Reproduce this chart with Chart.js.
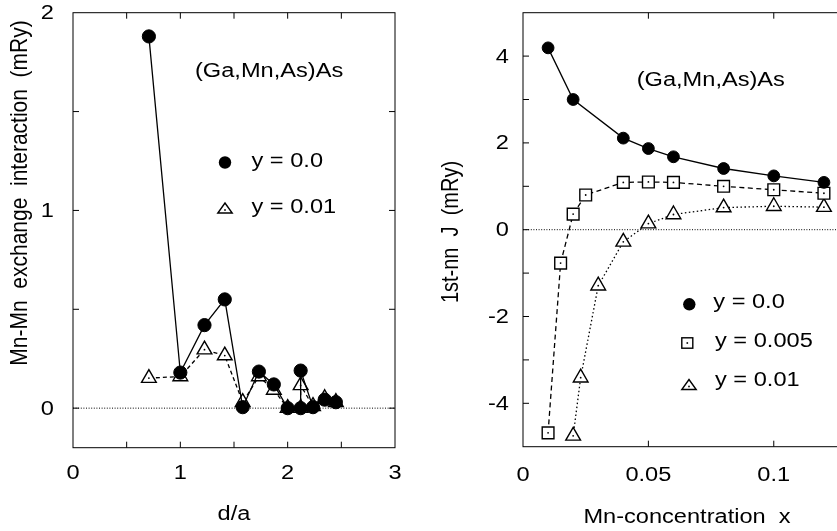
<!DOCTYPE html>
<html>
<head>
<meta charset="utf-8">
<script src="https://cdn.jsdelivr.net/npm/chart.js@4.4.1/dist/chart.umd.min.js"></script>
<style>
  html, body { margin: 0; padding: 0; background: #fff; overflow: hidden; }
  #wrap { position: relative; width: 837px; height: 531px; overflow: hidden; background: #fff; }
  #wrap canvas { position: absolute; top: 0; }
  #left { left: 0; }
  #right { left: 420px; }
</style>
</head>
<body>
<div id="wrap">
  <canvas id="left" width="420" height="531"></canvas>
  <canvas id="right" width="440" height="531"></canvas>
</div>
<script>
// ---- Left panel: exchange interaction vs. distance d/a ----
const dOverA = [0.707, 1.0, 1.225, 1.414, 1.581, 1.732, 1.871, 2.0, 2.121, 2.121, 2.236, 2.345, 2.449];
const jPairY000 = [1.88, 0.18, 0.42, 0.55, 0.005, 0.185, 0.12, 0.0, 0.0, 0.19, 0.005, 0.043, 0.03];
const jPairY001 = [0.152, 0.16, 0.296, 0.266, 0.03, 0.16, 0.092, 0.0, 0.0, 0.115, 0.01, 0.05, 0.03];

const leftXLabels = [0, 1, 2, 3];
const leftXMarks = [0.5, 1, 1.5, 2, 2.5];
const leftYLabels = [0, 1, 2];
const leftYMarks = [0, 0.5, 1, 1.5];

// ---- Right panel: first-neighbour J vs. Mn concentration ----
const mnXY000 = [0.01, 0.02, 0.04, 0.05, 0.06, 0.08, 0.1, 0.12];
const jNNY000 = [4.19, 3.0, 2.11, 1.87, 1.68, 1.41, 1.24, 1.09];
const mnXY005 = [0.01, 0.015, 0.02, 0.025, 0.04, 0.05, 0.06, 0.08, 0.1, 0.12];
const jNNY005 = [-4.68, -0.77, 0.36, 0.80, 1.09, 1.10, 1.09, 1.0, 0.92, 0.84];
const mnXY010 = [0.02, 0.023, 0.03, 0.04, 0.05, 0.06, 0.08, 0.1, 0.12];
const jNNY010 = [-4.75, -3.41, -1.29, -0.28, 0.14, 0.35, 0.51, 0.54, 0.52];

const rightXLabels = [0, 0.05, 0.1];
const rightXMarks = [0.05, 0.1];
const rightYLabels = [-4, -2, 0, 2, 4];
const rightYMarks = [-4, -3, -2, -1, 0, 1, 2, 3, 4];

const seriesNames = ['y = 0.0', 'y = 0.005', 'y = 0.01'];
const systemName = '(Ga,Mn,As)As';

const pts = (xs, ys) => xs.map((x, i) => ({ x: x, y: ys[i] }));

// Text is drawn slightly widened, like the original plotting terminal.
const SX = 1.18;
const FONT = '"Liberation Sans", Arial, Helvetica, sans-serif';
function drawText(ctx, s, x, y, align, baseline, rotate, size) {
  ctx.save();
  ctx.translate(x, y);
  ctx.scale(SX, 1);
  if (rotate) ctx.rotate(-Math.PI / 2);
  ctx.font = (size || 20) + 'px ' + FONT;
  ctx.textAlign = align;
  ctx.textBaseline = baseline;
  ctx.fillStyle = '#000';
  ctx.fillText(s, 0, 0);
  ctx.restore();
}

function drawKey(ctx, kind, x, y) {
  ctx.save();
  ctx.strokeStyle = '#000';
  ctx.fillStyle = '#000';
  ctx.lineWidth = 1.4;
  if (kind === 'circle') {
    ctx.beginPath(); ctx.arc(x, y, 6.2, 0, Math.PI * 2); ctx.fill();
  } else if (kind === 'square') {
    ctx.strokeRect(x - 5.5, y - 5.2, 11, 10.4);
    ctx.fillRect(x - 0.8, y - 0.8, 1.6, 1.6);
  } else {
    ctx.beginPath();
    ctx.moveTo(x - 7.2, y + 5);
    ctx.lineTo(x + 7.2, y + 5);
    ctx.lineTo(x, y - 5);
    ctx.closePath();
    ctx.stroke();
    ctx.fillRect(x - 0.8, y + 1.2, 1.6, 1.6);
  }
  ctx.restore();
}

const fmt = v => String(v);

// Frame, inward ticks, tick labels, axis titles and in-plot key.
const decor = {
  id: 'decor',
  afterDraw(chart, args, o) {
    const ctx = chart.ctx;
    const a = chart.chartArea;
    const sx = chart.scales.x, sy = chart.scales.y;
    const L = 6;
    ctx.save();
    ctx.strokeStyle = '#000';
    ctx.lineWidth = 1;
    ctx.strokeRect(a.left, a.top, a.right - a.left, a.bottom - a.top);
    ctx.beginPath();
    o.xMarks.forEach(v => {
      const p = sx.getPixelForValue(v);
      ctx.moveTo(p, a.bottom); ctx.lineTo(p, a.bottom - L);
      ctx.moveTo(p, a.top); ctx.lineTo(p, a.top + L);
    });
    o.yMarks.forEach(v => {
      const p = sy.getPixelForValue(v);
      ctx.moveTo(a.left, p); ctx.lineTo(a.left + L, p);
      ctx.moveTo(a.right, p); ctx.lineTo(a.right - L, p);
    });
    ctx.stroke();
    ctx.restore();

    o.xLabels.forEach(v => drawText(ctx, fmt(v), sx.getPixelForValue(v), a.bottom + o.xLabelGap, 'center', 'middle'));
    o.yLabels.forEach(v => drawText(ctx, fmt(v), a.left - o.yLabelGap, sy.getPixelForValue(v) + 1, 'right', 'middle'));

    drawText(ctx, o.xTitle.text, o.xTitle.x, o.xTitle.y, 'center', 'alphabetic');
    drawText(ctx, o.yTitle.text, o.yTitle.x, o.yTitle.y, 'center', 'alphabetic', true, o.yTitle.size);

    drawText(ctx, systemName, o.note.x, o.note.y, 'left', 'middle');
    o.keys.forEach(k => {
      drawKey(ctx, k.kind, k.mx, k.my);
      drawText(ctx, k.text, k.tx, k.ty, 'left', 'middle');
    });
  }
};

function baseScales(xMin, xMax, yMin, yMax, yWidth, xHeight) {
  const hidden = { display: false };
  return {
    x: {
      type: 'linear', min: xMin, max: xMax,
      grid: hidden, border: hidden, ticks: hidden,
      afterFit: s => { s.height = xHeight; }
    },
    y: {
      type: 'linear', min: yMin, max: yMax,
      grid: hidden, border: hidden, ticks: hidden,
      afterFit: s => { s.width = yWidth; }
    }
  };
}

const commonOpts = {
  responsive: false,
  animation: false,
  devicePixelRatio: 1,
  events: [],
};

const filledCircle = (data, r) => ({
  data: data, showLine: true, borderColor: '#000', borderWidth: 1.3,
  pointStyle: 'circle', pointRadius: r, pointBackgroundColor: '#000',
  pointBorderColor: '#000', pointBorderWidth: 1, clip: false
});
const hollow = (data, style, r, dash) => ({
  data: data, showLine: true, borderColor: '#000', borderWidth: 1.3, borderDash: dash,
  pointStyle: style, pointRadius: r, pointBackgroundColor: '#fff',
  pointBorderColor: '#000', pointBorderWidth: 1.4, clip: false
});
const centreDots = data => ({
  data: data, showLine: false, pointStyle: 'circle', pointRadius: 0.9,
  pointBackgroundColor: '#000', pointBorderWidth: 0, clip: false
});
const zeroLine = (x0, x1) => ({
  data: [{ x: x0, y: 0 }, { x: x1, y: 0 }], showLine: true, borderColor: '#000',
  borderWidth: 1, borderDash: [1, 1.6], pointRadius: 0, clip: false
});

// Left chart: plot area 73..395 x 12.7..447.7
new Chart(document.getElementById('left'), {
  type: 'scatter',
  data: {
    datasets: [
      filledCircle(pts(dOverA, jPairY000), 6.6),
      centreDots(pts(dOverA, jPairY001)),
      hollow(pts(dOverA, jPairY001), 'triangle', 8.5, [4, 3]),
      zeroLine(0, 3)
    ]
  },
  options: Object.assign({}, commonOpts, {
    layout: { padding: { left: 0, top: 12.7, right: 25, bottom: 0 } },
    scales: baseScales(0, 3, -0.2, 2, 73, 83.3),
    plugins: {
      legend: { display: false }, tooltip: { enabled: false },
      decor: {
        xLabels: leftXLabels, xMarks: leftXMarks, yLabels: leftYLabels, yMarks: leftYMarks,
        xLabelGap: 25.5, yLabelGap: 19,
        xTitle: { text: 'd/a', x: 234, y: 520 },
        yTitle: { text: 'Mn-Mn  exchange  interaction  (mRy)', x: 27, y: 193, size: 21 },
        note: { x: 195, y: 71 },
        keys: [
          { kind: 'circle', mx: 225, my: 162.5, text: seriesNames[0], tx: 251.5, ty: 161 },
          { kind: 'triangle', mx: 225, my: 208, text: seriesNames[2], tx: 251.5, ty: 207.5 }
        ]
      }
    }
  }),
  plugins: [decor]
});

// Right chart (canvas starts at page x=420): plot area 523..849 x 12.7..446.7
new Chart(document.getElementById('right'), {
  type: 'scatter',
  data: {
    datasets: [
      filledCircle(pts(mnXY000, jNNY000), 5.9),
      centreDots(pts(mnXY005, jNNY005)),
      hollow(pts(mnXY005, jNNY005), 'rect', 8.3, [5, 3.5]),
      centreDots(pts(mnXY010, jNNY010)),
      hollow(pts(mnXY010, jNNY010), 'triangle', 8.5, [1.5, 2.5]),
      zeroLine(0, 0.13)
    ]
  },
  options: Object.assign({}, commonOpts, {
    layout: { padding: { left: 0, top: 12.7, right: 11, bottom: 0 } },
    scales: baseScales(0, 0.13, -5, 5, 103, 84.3),
    plugins: {
      legend: { display: false }, tooltip: { enabled: false },
      decor: {
        xLabels: rightXLabels, xMarks: rightXMarks, yLabels: rightYLabels, yMarks: rightYMarks,
        xLabelGap: 28.5, yLabelGap: 14,
        xTitle: { text: 'Mn-concentration  x', x: 267, y: 522.5 },
        yTitle: { text: '1st-nn  J  (mRy)', x: 38, y: 232 },
        note: { x: 216.7, y: 80 },
        keys: [
          { kind: 'circle', mx: 269.3, my: 304.3, text: seriesNames[0], tx: 293.3, ty: 302.5 },
          { kind: 'square', mx: 267.3, my: 343, text: seriesNames[1], tx: 295, ty: 341.7 },
          { kind: 'triangle', mx: 269, my: 384.5, text: seriesNames[2], tx: 295, ty: 380 }
        ]
      }
    }
  }),
  plugins: [decor]
});
</script>
</body>
</html>
